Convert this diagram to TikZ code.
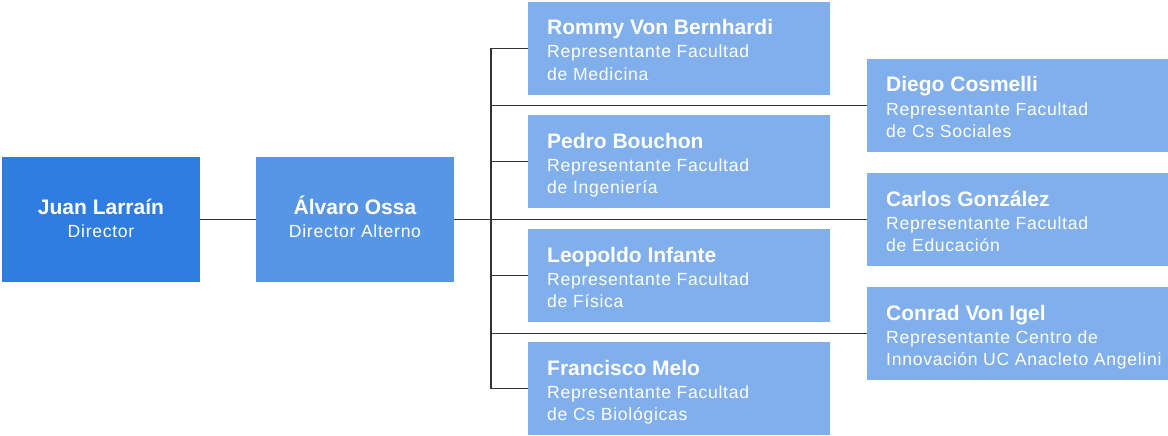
\documentclass[tikz,border=0pt]{standalone}
\usepackage{fontspec}
\setmainfont{Liberation Sans}
\newfontfamily\descfam[LetterSpace=4]{Liberation Sans}
\usetikzlibrary{calc}
\definecolor{cdir}{HTML}{2F7DE1}
\definecolor{calt}{HTML}{5796E4}
\definecolor{crep}{HTML}{80AFEB}
\tikzset{
  box/.style={anchor=north west, inner sep=0pt, outer sep=0pt, minimum width=#1, minimum height=93pt},
  namet/.style={text=white, inner sep=0pt, font=\fontsize{21}{24}\selectfont\bfseries},
  desct/.style={text=white, inner sep=0pt, font=\fontsize{17.6}{22}\selectfont\descfam},
  link/.style={draw=black!80, line width=1.3pt}
}
\newcommand{\member}[4]{%
  \node[namet, anchor=base west] (#1-n) at ($(#1.north west)+(19,33)$) {#2};
  \node[desct, anchor=base west] (#1-a) at ($(#1.north west)+(19,56)$) {#3};
  \node[desct, anchor=base west] (#1-b) at ($(#1.north west)+(19,78.5)$) {#4};
}
\begin{document}
\begin{tikzpicture}[x=1pt,y=-1pt]
\useasboundingbox (0,0) rectangle (1168,436);
% main boxes
\node[box=198pt, minimum height=125pt, fill=cdir] (juan) at (2,157) {};
\node[box=198pt, minimum height=125pt, fill=calt] (alvaro) at (256,157) {};
\node[namet, anchor=base] (juan-n) at ($(juan.north)+(0,57)$) {Juan Larraín};
\node[desct, anchor=base] (juan-a) at ($(juan.north)+(0,80)$) {Director};
\node[namet, anchor=base] (alvaro-n) at ($(alvaro.north)+(0,57)$) {Álvaro Ossa};
\node[desct, anchor=base] (alvaro-a) at ($(alvaro.north)+(0,80)$) {Director Alterno};
% left column
\node[box=302pt, fill=crep] (rommy) at (528,2) {};
\node[box=302pt, fill=crep] (pedro) at (528,115) {};
\node[box=302pt, fill=crep] (leopoldo) at (528,229) {};
\node[box=302pt, fill=crep] (francisco) at (528,342) {};
% right column
\node[box=301pt, fill=crep] (diego) at (867,59) {};
\node[box=301pt, fill=crep] (carlos) at (867,173) {};
\node[box=301pt, fill=crep] (conrad) at (867,287) {};
\member{rommy}{Rommy Von Bernhardi}{Representante Facultad}{de Medicina}
\member{pedro}{Pedro Bouchon}{Representante Facultad}{de Ingeniería}
\member{leopoldo}{Leopoldo Infante}{Representante Facultad}{de Física}
\member{francisco}{Francisco Melo}{Representante Facultad}{de Cs Biológicas}
\member{diego}{Diego Cosmelli}{Representante Facultad}{de Cs Sociales}
\member{carlos}{Carlos González}{Representante Facultad}{de Educación}
\member{conrad}{Conrad Von Igel}{Representante Centro de}{Innovación UC Anacleto Angelini}
% connectors
\coordinate (trunk) at (491,0);
\draw[link] (juan.east) -- (alvaro.west);
\draw[link] (alvaro.east) -- (carlos.west);
\draw[link] (rommy.west) -- (rommy.west -| trunk) -- (francisco.west -| trunk) -- (francisco.west);
\draw[link] (pedro.west -| trunk) -- (pedro.west);
\draw[link] (leopoldo.west -| trunk) -- (leopoldo.west);
\draw[link] (diego.west -| trunk) -- (diego.west);
\draw[link] (conrad.west -| trunk) -- (conrad.west);
\end{tikzpicture}
\end{document}
